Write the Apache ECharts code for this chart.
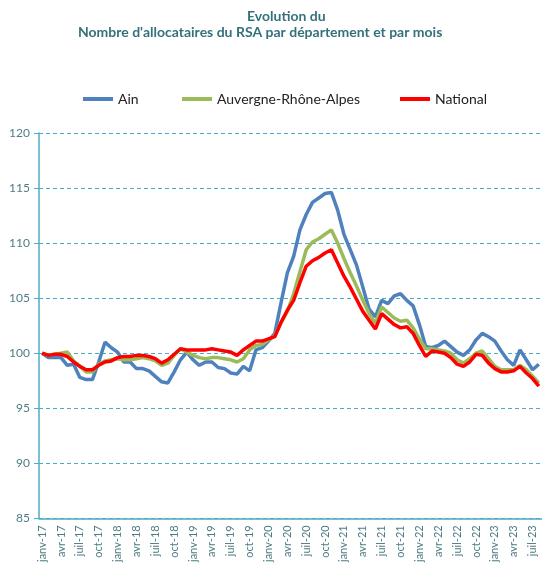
<!DOCTYPE html>
<html lang="fr">
<head>
<meta charset="utf-8">
<title>Evolution RSA</title>
<script src="https://cdn.jsdelivr.net/npm/echarts@6/dist/echarts.min.js"></script>
<style>
  html, body { margin: 0; padding: 0; background: #fff; }
  #chart { width: 542px; height: 565px; }
</style>
</head>
<body>
<div id="chart"></div>
<script>
// mois de janv-17 a aout-23
var moisNoms = ['janv', 'févr', 'mars', 'avr', 'mai', 'juin', 'juil', 'août', 'sept', 'oct', 'nov', 'déc'];
var annees = ['17', '18', '19', '20', '21', '22', '23'];
var nbMois = 80;

var ain = [
    100.0, 99.6, 99.6, 99.6, 98.9, 99.0, 97.8, 97.6, 97.6, 99.2, 101.0, 100.5,
    100.1, 99.2, 99.2, 98.6, 98.6, 98.4, 97.9, 97.4, 97.3, 98.3, 99.4, 100.1,
    99.4, 98.9, 99.2, 99.2, 98.7, 98.6, 98.2, 98.1, 98.8, 98.4, 100.3, 100.5,
    101.1, 101.8, 104.6, 107.3, 108.8, 111.2, 112.6, 113.7, 114.1, 114.5, 114.6, 113.0,
    110.8, 109.4, 108.0, 106.0, 104.0, 103.3, 104.8, 104.5, 105.2, 105.4, 104.8, 104.3,
    102.6, 100.6, 100.5, 100.7, 101.1, 100.6, 100.1, 99.8, 100.3, 101.2, 101.8, 101.5,
    101.1, 100.2, 99.4, 98.9, 100.3, 99.4, 98.5, 99.0
];
var ara = [
    100.0, 99.8, 99.9, 100.0, 100.1, 99.3, 98.8, 98.3, 98.3, 99.0, 99.3, 99.4,
    99.5, 99.4, 99.4, 99.5, 99.6, 99.5, 99.3, 98.9, 99.1, 99.8, 100.4, 100.1,
    99.8, 99.6, 99.5, 99.6, 99.6, 99.5, 99.4, 99.2, 99.5, 100.3, 100.7, 100.8,
    101.2, 101.6, 102.8, 103.8, 105.4, 107.4, 109.4, 110.1, 110.4, 110.8, 111.2, 110.0,
    108.6, 107.3, 106.1, 104.8, 103.6, 102.7, 104.2, 103.7, 103.2, 102.9, 103.0, 102.3,
    101.3, 100.4, 100.4, 100.3, 100.2, 100.0, 99.4, 99.1, 99.5, 100.0, 100.2, 99.5,
    98.8, 98.5, 98.5, 98.5, 98.9, 98.5, 97.9, 97.3
];
var national = [
    100.0, 99.8, 99.9, 99.9, 99.7, 99.2, 98.8, 98.5, 98.5, 98.9, 99.2, 99.3,
    99.6, 99.7, 99.7, 99.8, 99.8, 99.7, 99.5, 99.1, 99.4, 99.9, 100.4, 100.3,
    100.3, 100.3, 100.3, 100.4, 100.3, 100.2, 100.1, 99.8, 100.3, 100.7, 101.1, 101.1,
    101.3, 101.5, 102.8, 103.9, 104.8, 106.4, 107.9, 108.4, 108.7, 109.1, 109.4, 108.2,
    107.0, 106.0, 104.9, 103.8, 103.0, 102.2, 103.6, 103.1, 102.6, 102.3, 102.4, 101.8,
    100.7, 99.7, 100.2, 100.1, 100.0, 99.6, 99.0, 98.8, 99.2, 99.9, 99.8, 99.1,
    98.6, 98.3, 98.3, 98.4, 98.8, 98.2, 97.7, 97.0
];

var categories = [];
for (var i = 0; i < nbMois; i++) {
    categories.push(moisNoms[i % 12] + '-' + annees[Math.floor(i / 12)]);
}

var teal = '#4BACC6';
var labelColor = '#4d7c84';
var police = 'Lato, "Open Sans", sans-serif';
var titreStyle = { fontFamily: police, fontSize: 14, fontWeight: 'bold', color: '#35717b' };
var legendeTexte = { fontFamily: police, fontSize: 14, color: '#222' };

function legende(nom, x) {
    return {
        data: [nom],
        left: x,
        top: 87,
        icon: 'rect',
        itemWidth: 30,
        itemHeight: 4,
        itemGap: 0,
        textStyle: legendeTexte
    };
}

var myChart = echarts.init(document.getElementById('chart'));

myChart.setOption({
    animation: false,
    title: [
        { text: 'Evolution du', left: 242, top: 4, textStyle: titreStyle },
        { text: "Nombre d'allocataires du RSA par département et par mois", left: 73, top: 20, textStyle: titreStyle }
    ],
    legend: [
        legende('Ain', 78),
        legende('Auvergne-Rhône-Alpes', 177),
        legende('National', 395)
    ],
    grid: {
        left: 39,
        top: 133,
        width: 505,
        height: 389,
        containLabel: false
    },
    xAxis: {
        type: 'category',
        boundaryGap: true,
        data: categories,
        axisLine: { lineStyle: { color: teal, width: 1.5 } },
        axisTick: { interval: 2, length: 5, lineStyle: { color: teal } },
        axisLabel: {
            interval: 2,
            rotate: 90,
            margin: 7,
            fontFamily: police,
            fontSize: 11,
            color: labelColor
        },
        splitLine: { show: false }
    },
    yAxis: {
        type: 'value',
        min: 85,
        max: 120,
        interval: 5,
        axisLine: { show: true, lineStyle: { color: teal, width: 1.5 } },
        axisTick: { show: true, length: 5, lineStyle: { color: teal } },
        axisLabel: { fontFamily: police, fontSize: 12, color: labelColor, margin: 9 },
        splitLine: { lineStyle: { color: teal, type: [4, 3], width: 1 } }
    },
    series: [
        {
            name: 'Ain',
            type: 'line',
            data: ain,
            symbol: 'none',
            itemStyle: { color: '#4F81BD' },
            lineStyle: { color: '#4F81BD', width: 3.5 }
        },
        {
            name: 'Auvergne-Rhône-Alpes',
            type: 'line',
            data: ara,
            symbol: 'none',
            itemStyle: { color: '#9BBB59' },
            lineStyle: { color: '#9BBB59', width: 3.5 }
        },
        {
            name: 'National',
            type: 'line',
            data: national,
            symbol: 'none',
            itemStyle: { color: '#FF0000' },
            lineStyle: { color: '#FF0000', width: 3.5 }
        }
    ]
});
</script>
</body>
</html>
